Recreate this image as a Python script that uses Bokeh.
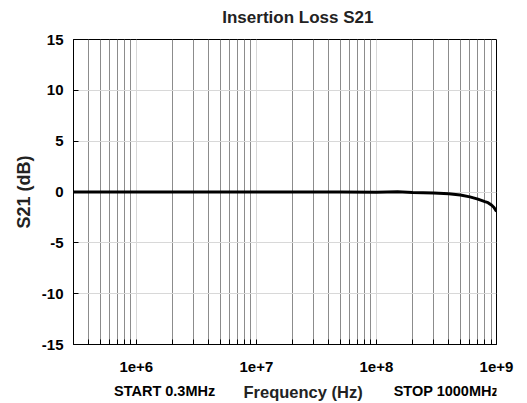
from bokeh.plotting import figure
from bokeh.models import FixedTicker, Range1d
from bokeh.layouts import column
from bokeh.core.properties import value
from bokeh.embed import file_html
from bokeh.resources import INLINE

# Data
freq_hz = [3e5, 1e6, 3e6, 1e7, 3e7, 5e7, 1e8, 1.5e8, 2e8, 3e8, 4e8, 5e8,
           6e8, 7e8, 8e8, 8.5e8, 9e8, 9.5e8, 1e9]
s21_db = [0.0, 0.0, 0.0, 0.0, 0.0, 0.0, -0.02, 0.02, -0.05, -0.1, -0.18,
          -0.3, -0.48, -0.7, -0.95, -1.05, -1.25, -1.5, -1.9]

x_major = [1e6, 1e7, 1e8, 1e9]
x_minor = [m * 10 ** e for e in range(5, 9) for m in range(2, 10) if m * 10 ** e > 3e5]
x_labels = {1e6: "1e+6", 1e7: "1e+7", 1e8: "1e+8", 1e9: "1e+9"}
y_ticks = [-15, -10, -5, 0, 5, 10, 15]
y_labels = {-15: "-15", -10: "-10", -5: "-5", 0: "0", 5: "5", 10: "10", 15: "15"}

title_text = "Insertion Loss S21"
x_title = "Frequency (Hz)"
y_title = "S21 (dB)"
start_text = "START 0.3MHz"
stop_text = "STOP 1000MHz"

FONT = "Liberation Sans"
W = 527
TOP_H, MAIN_H, BOT_H = 28, 351, 24


def strip(height):
    s = figure(width=W, height=height, x_range=Range1d(0, W), y_range=Range1d(0, height),
               output_backend="svg", toolbar_location=None,
               x_axis_location=None, y_axis_location=None,
               min_border=0, outline_line_color=None)
    s.grid.visible = False
    return s


# title strip
top = strip(TOP_H)
top.text(x=[279.5], y=[TOP_H - 16.5], text=[title_text], text_font=value(FONT),
         text_font_style="bold", text_font_size="17px", text_color="#222222",
         text_align="center", text_baseline="middle")

# main chart
p = figure(width=W, height=MAIN_H, x_axis_type="log",
           x_range=Range1d(3e5, 1e9), y_range=Range1d(-15, 15),
           output_backend="svg", toolbar_location=None,
           min_border_left=73, min_border_right=31,
           min_border_top=39 - TOP_H, min_border_bottom=MAIN_H + TOP_H - 344)

p.line(freq_hz, s21_db, line_color="black", line_width=3)

p.outline_line_color = "black"
p.outline_line_width = 1

xa = p.xaxis[0]
xa.ticker = FixedTicker(ticks=x_major, minor_ticks=x_minor)
xa.major_label_overrides = x_labels
xa.major_tick_in = 5
xa.major_tick_out = 0
xa.minor_tick_in = 5
xa.minor_tick_out = 0
xa.axis_line_color = "black"
xa.major_tick_line_color = "black"
xa.minor_tick_line_color = "black"
xa.major_label_text_font = FONT
xa.major_label_text_font_style = "bold"
xa.major_label_text_font_size = "15px"
xa.major_label_text_color = "black"
xa.major_label_standoff = 17

ya = p.yaxis[0]
ya.ticker = FixedTicker(ticks=y_ticks)
ya.major_label_overrides = y_labels
ya.major_tick_in = 5
ya.major_tick_out = 0
ya.minor_tick_line_color = None
ya.axis_line_color = "black"
ya.major_label_text_font = FONT
ya.major_label_text_font_style = "bold"
ya.major_label_text_font_size = "15px"
ya.major_label_text_color = "black"
ya.major_label_standoff = 10
ya.axis_label = y_title
ya.axis_label_text_font = FONT
ya.axis_label_text_font_style = "bold"
ya.axis_label_text_font_size = "18px"
ya.axis_label_text_color = "#222222"
ya.axis_label_standoff = 5

p.xgrid.grid_line_color = "#d8d8d8"
p.xgrid.minor_grid_line_color = "#8c8c8c"
p.xgrid.ticker = FixedTicker(ticks=x_major, minor_ticks=x_minor)
p.ygrid.grid_line_color = "#d8d8d8"
p.ygrid.ticker = FixedTicker(ticks=y_ticks)

# bottom strip: START / axis title / STOP on one line
bot = strip(BOT_H)
bot.text(x=[113.5, 464.5], y=[BOT_H - 11, BOT_H - 11], text=[start_text, stop_text],
         text_font=value(FONT), text_font_style="bold", text_font_size="14.5px",
         text_color="black", text_align="center", text_baseline="middle")
bot.text(x=[286], y=[BOT_H - 12], text=[x_title], text_font=value(FONT),
         text_font_style="bold", text_font_size="16.5px", text_color="#222222",
         text_align="center", text_baseline="middle")

layout = column(top, p, bot, spacing=0)
open("out.html", "w").write(file_html(layout, INLINE))
